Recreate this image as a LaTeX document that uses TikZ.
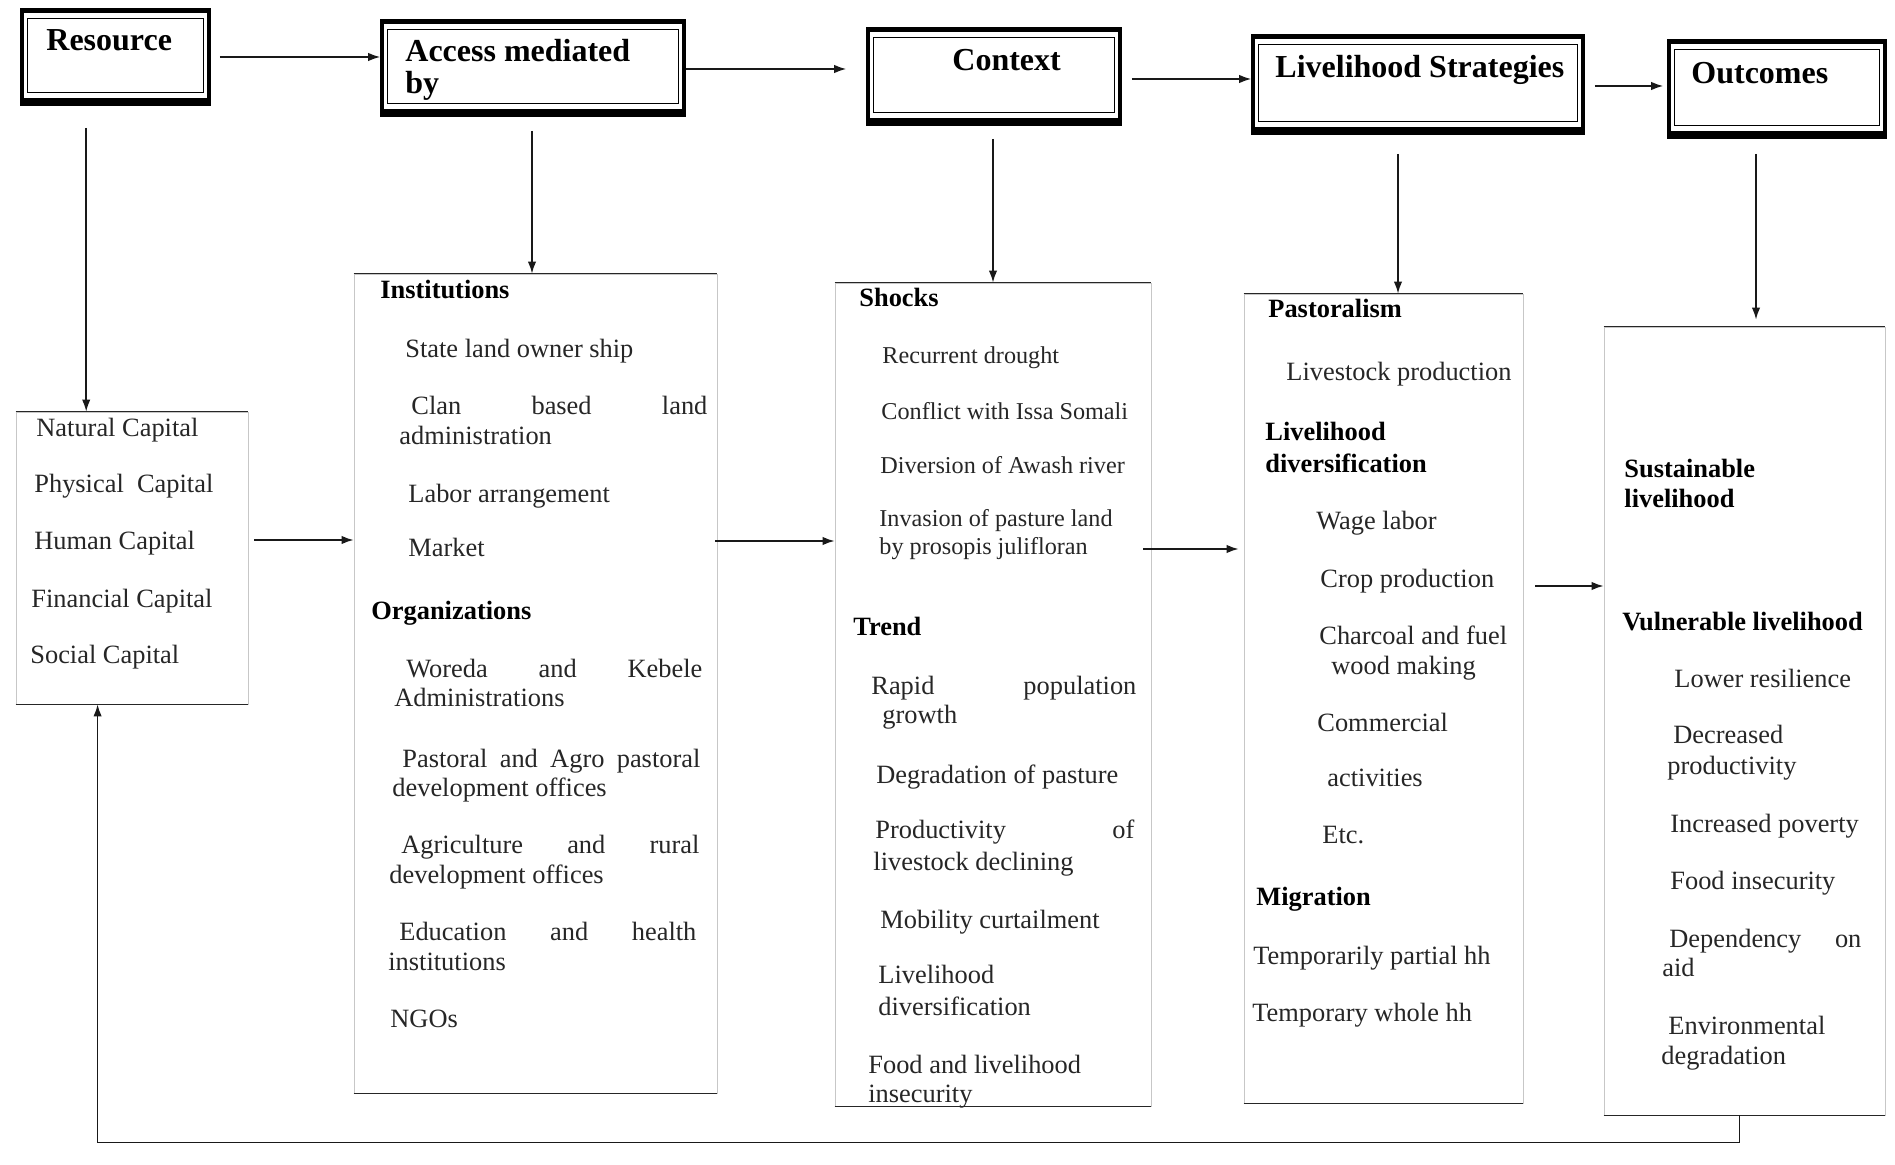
\documentclass[tikz,border=0pt]{standalone}
\usepackage{fontspec}
\setmainfont{Liberation Serif}
\usetikzlibrary{arrows.meta,calc,fit}
\newcommand\hdeco[1]{%
  \fill (#1.north west) rectangle ($(#1.north east)+(0,5)$);
  \fill ($(#1.south west)+(0,-8)$) rectangle (#1.south east);
  \draw[line width=0.6pt] ($(#1.north west)+(7,10)$) rectangle ($(#1.south east)+(-7,-13)$);
}
\newcommand\bdeco[1]{%
  \draw[line width=0.8pt,black!85] (#1.north west) -- (#1.north east) (#1.south west) -- (#1.south east);
}
\begin{document}
\begin{tikzpicture}[x=0.5pt,y=-0.5pt,
  tx/.style={anchor=west, inner sep=0pt, yshift=-2.1pt, text height=0.7em, text depth=0.2em, text=black!85, font=\fontsize{13.2}{15}\selectfont},
  txb/.style={tx, text=black, font=\fontsize{13.2}{15}\selectfont\bfseries},
  txs/.style={tx, font=\fontsize{12.1}{14}\selectfont},
  ht/.style={anchor=west, inner sep=0pt, yshift=-3.2pt, text height=0.7em, text depth=0.2em, font=\fontsize{16}{19}\selectfont\bfseries},
  hframe/.style={inner sep=0pt, draw=black, line width=1.8pt},
  bframe/.style={inner sep=0pt, draw=black!22, line width=0.4pt},
  arr/.style={draw=black!90, line width=0.75pt, -{Latex[length=6pt,width=4.2pt]}},
]
\fill[white] (0,0) rectangle (1895,1165);
\useasboundingbox (0,0) rectangle (1895,1165);

% ---------- header boxes ----------
\node[hframe, fit={(22,10) (209,104)}] (HR) {};
\node[hframe, fit={(382,21) (684,115)}] (HA) {};
\node[hframe, fit={(868,29) (1120,124)}] (HC) {};
\node[hframe, fit={(1253,36) (1583,133)}] (HL) {};
\node[hframe, fit={(1669,41) (1885,137)}] (HO) {};
\hdeco{HR}\hdeco{HA}\hdeco{HC}\hdeco{HL}\hdeco{HO}

\node[ht] (hrt) at (46,39) {Resource};
\node[ht] (hat1) at (405,50) {Access mediated};
\node[ht] (hat2) at (405,82) {by};
\node[ht] (hct) at (952,59) {Context};
\node[ht] (hlt) at (1275,66) {Livelihood Strategies};
\node[ht] (hot) at (1691,72) {Outcomes};

% ---------- body boxes ----------
\node[bframe, fit={(16,412) (248,704)}] (R) {};
\node[bframe, fit={(354,274) (717,1093)}] (I) {};
\node[bframe, fit={(835,283) (1151,1106)}] (S) {};
\node[bframe, fit={(1244,294) (1523,1103)}] (L) {};
\node[bframe, fit={(1604,327) (1885,1115)}] (O) {};
\bdeco{R}\bdeco{I}\bdeco{S}\bdeco{L}\bdeco{O}

% Resource
\node[tx] (r1) at (36,427) {Natural Capital};
\node[tx] (r2) at (34,483) {Physical\ \ Capital};
\node[tx] (r3) at (34,540) {Human Capital};
\node[tx] (r4) at (31,598) {Financial Capital};
\node[tx] (r5) at (30,654) {Social Capital};

% Institutions / Organizations
\node[txb] (i0) at (380,289) {Institutions};
\node[tx] (i1) at (405,348) {State land owner ship};
\node[tx] (i2a) at (411,405) {\makebox[148pt][s]{Clan based land}};
\node[tx] (i2b) at (399,435) {administration};
\node[tx] (i3) at (408,493) {Labor arrangement};
\node[tx] (i4) at (408,547) {Market};
\node[txb] (o0) at (371,610) {Organizations};
\node[tx] (o1a) at (406,668) {\makebox[148pt][s]{Woreda and Kebele}};
\node[tx] (o1b) at (394,697) {Administrations};
\node[tx] (o2a) at (402,758) {\makebox[149pt][s]{Pastoral and Agro pastoral}};
\node[tx] (o2b) at (392,787) {development offices};
\node[tx] (o3a) at (401,844) {\makebox[149pt][s]{Agriculture and rural}};
\node[tx] (o3b) at (389,874) {development offices};
\node[tx] (o4a) at (399,931) {\makebox[148.5pt][s]{Education and health}};
\node[tx] (o4b) at (388,961) {institutions};
\node[tx] (o5) at (390,1018) {NGOs};

% Shocks / Trend
\node[txb] (s0) at (859,297) {Shocks};
\node[txs] (s1) at (882,354) {Recurrent drought};
\node[txs] (s2) at (881,410) {Conflict with Issa Somali};
\node[txs] (s3) at (880,464) {Diversion of Awash river};
\node[txs] (s4a) at (879,517) {Invasion of pasture land};
\node[txs] (s4b) at (879,545) {by prosopis julifloran};
\node[txb] (t0) at (853,626) {Trend};
\node[tx] (t1a) at (871,685) {\makebox[132.5pt][s]{Rapid population}};
\node[tx] (t1b) at (882,714) {growth};
\node[tx] (t2) at (876,774) {Degradation of pasture};
\node[tx] (t3a) at (875,829) {\makebox[129.5pt][s]{Productivity of}};
\node[tx] (t3b) at (873,861) {livestock declining};
\node[tx] (t4) at (880,919) {Mobility curtailment};
\node[tx] (t5a) at (878,974) {Livelihood};
\node[tx] (t5b) at (878,1006) {diversification};
\node[tx] (t6a) at (868,1064) {Food and livelihood};
\node[tx] (t6b) at (868,1093) {insecurity};

% Livelihood strategies
\node[txb] (l0) at (1268,308) {Pastoralism};
\node[tx] (l1) at (1286,371) {Livestock production};
\node[txb] (l2a) at (1265,431) {Livelihood};
\node[txb] (l2b) at (1265,463) {diversification};
\node[tx] (l3) at (1316,520) {Wage labor};
\node[tx] (l4) at (1320,578) {Crop production};
\node[tx] (l5a) at (1319,635) {Charcoal and fuel};
\node[tx] (l5b) at (1331,665) {wood making};
\node[tx] (l6) at (1317,722) {Commercial};
\node[tx] (l7) at (1327,777) {activities};
\node[tx] (l8) at (1322,834) {Etc.};
\node[txb] (m0) at (1256,896) {Migration};
\node[tx] (m1) at (1253,955) {Temporarily partial hh};
\node[tx] (m2) at (1252,1012) {Temporary whole hh};

% Outcomes
\node[txb] (u1a) at (1624,468) {Sustainable};
\node[txb] (u1b) at (1624,498) {livelihood};
\node[txb] (v0) at (1622,621) {Vulnerable livelihood};
\node[tx] (v1) at (1674,678) {Lower resilience};
\node[tx] (v2a) at (1673,734) {Decreased};
\node[tx] (v2b) at (1667,765) {productivity};
\node[tx] (v3) at (1670,823) {Increased poverty};
\node[tx] (v4) at (1670,880) {Food insecurity};
\node[tx] (v5a) at (1669,938) {\makebox[96pt][s]{Dependency on}};
\node[tx] (v5b) at (1662,967) {aid};
\node[tx] (v6a) at (1668,1025) {Environmental};
\node[tx] (v6b) at (1661,1055) {degradation};

% ---------- connectors ----------
\coordinate (h1) at ($(HR.east)+(9,0)$);
\coordinate (h2) at ($(HA.east)+(0,1)$);
\coordinate (h3) at ($(HC.east)+(10,2.5)$);
\coordinate (h4) at ($(HL.east)+(10,1.5)$);
\draw[arr] (h1) -- (h1 -| HA.west);
\draw[arr, shorten >=10pt] (h2) -- (h2 -| HC.west);
\draw[arr] (h3) -- (h3 -| HL.west);
\draw[arr, shorten >=2pt] (h4) -- (h4 -| HO.west);

\coordinate (v1) at ($(HR.south west)+(66,22)$);
\coordinate (v2) at ($(HA.south)+(-1,14)$);
\coordinate (v3) at ($(HC.south)+(-1,13)$);
\coordinate (v4) at ($(HL.south)+(-20,19)$);
\coordinate (v5) at ($(HO.south)+(-21,15)$);
\draw[arr] (v1) -- (v1 |- R.north);
\draw[arr] (v2) -- (v2 |- I.north);
\draw[arr] (v3) -- (v3 |- S.north);
\draw[arr] (v4) -- (v4 |- L.north);
\draw[arr, shorten >=3.5pt] (v5) -- (v5 |- O.north);

\coordinate (a1) at ($(R.east)+(6,-18)$);
\coordinate (a2) at ($(I.east)+(-2,-142.5)$);
\coordinate (a3) at ($(S.east)+(-8,-145.5)$);
\coordinate (a4) at ($(L.east)+(12,-112.5)$);
\draw[arr] (a1) -- (a1 -| I.west);
\draw[arr] (a2) -- (a2 -| S.west);
\draw[arr, shorten >=2.5pt] (a3) -- (a3 -| L.west);
\draw[arr] (a4) -- (a4 -| O.west);

\coordinate (f1) at ($(O.south west)+(136,0)$);
\coordinate (f2) at ($(R.south west)+(82,0)$);
\draw[arr] (f1) -- ++(0,27) -| (f2);
\end{tikzpicture}
\end{document}
